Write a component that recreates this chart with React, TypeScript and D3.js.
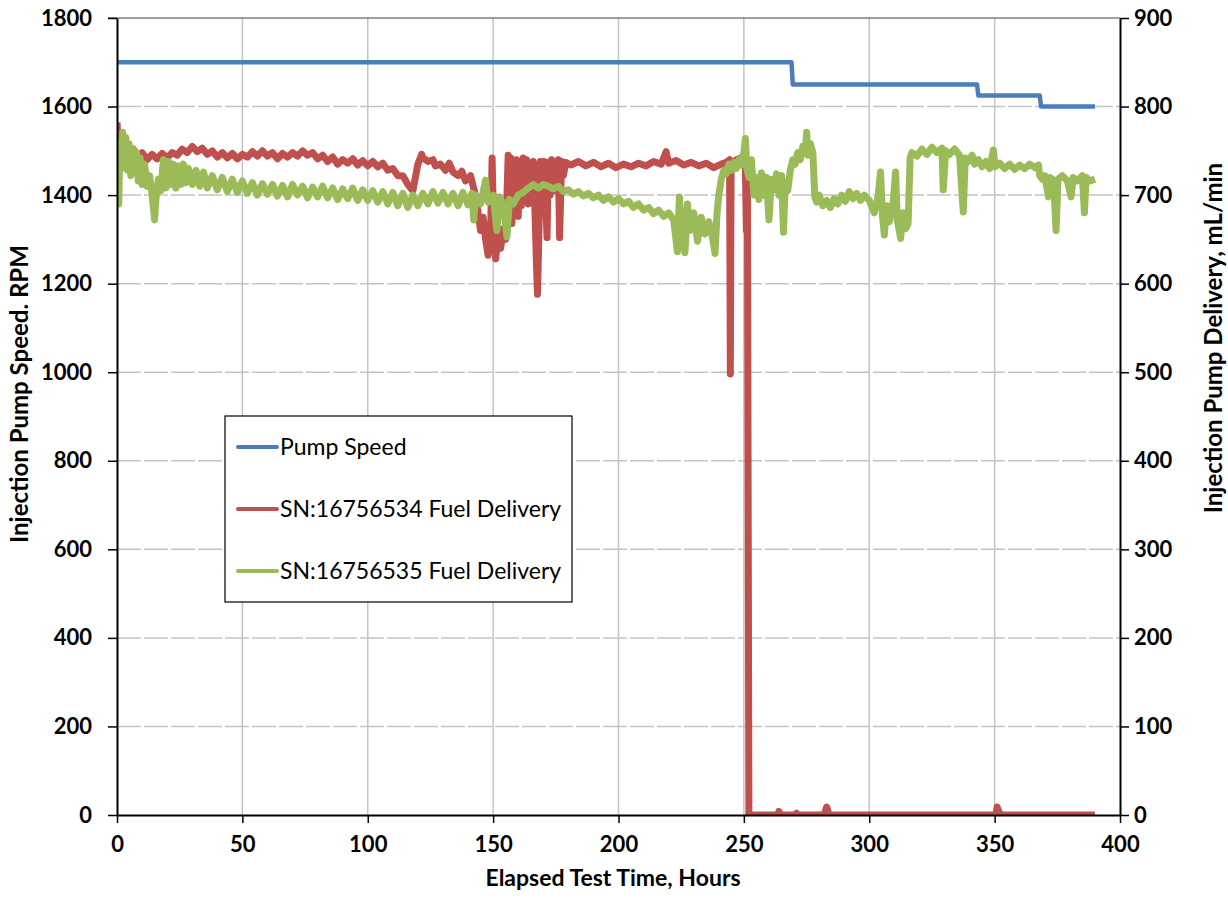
import { useEffect, useRef } from "react";
import * as d3 from "d3";

// elapsed hours, RPM (left axis)
const pumpSpeed: [number, number][] = [
  [0, 1700], [269, 1700], [269.5, 1650], [343, 1650], [343.5, 1625],
  [368, 1625], [368.5, 1600], [390, 1600],
];

// elapsed hours, mL/min (right axis)
const sn534: [number, number][] = [
  [0, 782], [0.5, 760], [1.5, 770], [2.5, 752], [4, 758], [5, 746], [6.5, 752], [8, 741],
  [10, 748], [12, 740], [14, 746], [16, 741], [18, 747], [20, 742], [22, 748], [24, 745],
  [26, 752], [28, 748], [30, 755], [32, 749], [34, 753], [36, 746], [38, 750], [40, 743],
  [42, 748], [44, 742], [46, 747], [48, 741], [50, 746], [52, 743], [54, 749], [56, 744],
  [58, 750], [60, 744], [62, 748], [64, 741], [66, 747], [68, 743], [70, 748], [72, 744],
  [74, 750], [76, 745], [78, 748], [80, 741], [82, 745], [84, 738], [86, 743], [88, 735],
  [90, 740], [92, 736], [94, 741], [96, 734], [98, 739], [100, 733], [102, 738], [104, 732],
  [106, 736], [108, 728], [110, 730], [112, 722], [114, 722], [116, 712], [118, 705],
  [120, 735], [121.5, 746], [122, 742], [124, 738], [126, 740], [127, 733], [129, 735],
  [131, 728], [132.5, 736], [134, 726], [136, 722], [137.5, 727], [139, 716], [141, 722],
  [142.5, 705], [143.5, 690], [145, 660], [146, 675], [147, 650], [148, 632], [149, 660],
  [149.6, 742], [150.2, 660], [151, 628], [152, 655], [153, 640], [154, 662], [155, 650],
  [156, 745], [156.5, 690], [157, 742], [157.5, 668], [158, 738], [158.7, 700], [159.3, 740],
  [160, 676], [160.7, 736], [161.3, 688], [162, 742], [162.7, 700], [163.3, 740], [164, 690],
  [164.7, 735], [165.3, 705], [166, 738], [166.7, 680], [167.3, 620], [167.7, 588], [168.2, 650],
  [168.8, 738], [169.5, 700], [170.2, 738], [171, 690], [171.5, 652], [172, 737], [172.7, 700],
  [173.3, 740], [174, 705], [174.7, 735], [175.3, 715], [176, 740], [176.5, 652], [177.3, 738],
  [178, 722], [179, 737], [181, 734], [184, 738], [187, 733], [190, 737], [193, 732], [196, 736],
  [199, 731], [202, 735], [205, 732], [208, 736], [211, 733], [214, 738], [217, 735], [219, 749],
  [220, 736], [223, 739], [226, 734], [229, 737], [232, 733], [235, 736], [238, 731], [241, 735],
  [243, 737], [244.3, 740], [244.6, 498], [244.9, 735], [247, 740], [249, 742], [250.5, 745],
  [251, 660], [251.4, 735], [252, 0], [263.5, 0], [264, 4], [264.5, 0], [270.5, 0], [271, 2],
  [271.5, 0], [282, 0], [283, 9], [284, 0], [350.5, 0], [351, 9], [352, 2], [353, 0], [390, 0],
];

const sn535: [number, number][] = [
  [0, 700], [0.3, 745], [0.7, 690], [1.2, 760], [1.8, 730], [2.3, 771], [3, 735], [3.5, 765],
  [4.2, 728], [4.8, 758], [5.5, 722], [6.2, 752], [7, 725], [7.8, 748], [8.5, 716], [9.2, 742],
  [10, 712], [11, 735], [12, 710], [13, 722], [14, 700], [15, 672], [15.5, 695], [16.5, 718],
  [17.5, 705], [18.5, 740], [19.5, 708], [20.5, 738], [21.5, 712], [22.5, 735], [23.5, 708],
  [24.5, 733], [25.5, 712], [26.5, 735], [27.5, 714], [28.5, 730], [30, 712], [31.5, 728],
  [33, 710], [34.5, 726], [36, 708], [38, 722], [40, 706], [42, 720], [44, 704], [46, 718],
  [48, 703], [50, 716], [52, 702], [54, 714], [56, 700], [58, 713], [60, 701], [62, 712],
  [64, 699], [66, 711], [68, 698], [70, 712], [72, 700], [74, 710], [76, 697], [78, 709],
  [80, 698], [82, 710], [84, 697], [86, 708], [88, 695], [90, 707], [92, 696], [94, 708],
  [96, 694], [98, 706], [100, 694], [102, 705], [104, 692], [106, 704], [108, 690], [110, 703],
  [112, 688], [114, 702], [116, 686], [118, 700], [120, 688], [122, 702], [124, 690], [126, 704],
  [128, 691], [130, 703], [132, 690], [134, 702], [136, 688], [138, 703], [140, 689],
  [141.5, 702], [142.3, 672], [143, 700], [145, 690], [147, 717], [148, 692], [150, 700],
  [151.5, 660], [152.5, 698], [154, 690], [155.5, 653], [156.5, 695], [158, 690], [160, 700],
  [162, 703], [164, 708], [166, 712], [168, 708], [170, 712], [172, 710], [174, 707], [176, 710],
  [178, 704], [180, 706], [182, 701], [184, 704], [186, 699], [188, 702], [190, 697], [192, 700],
  [194, 694], [196, 698], [198, 692], [200, 696], [202, 690], [204, 693], [206, 686], [208, 690],
  [210, 683], [212, 686], [214, 679], [216, 683], [218, 676], [220, 680], [222, 672],
  [223.5, 636], [224.3, 698], [225, 665], [226.5, 635], [227.5, 690], [228.5, 660], [230, 680],
  [231.5, 648], [233, 675], [234.5, 656], [236, 670], [237.5, 652], [238.5, 634], [239.3, 680],
  [240, 700], [241, 718], [242, 728], [243, 724], [244, 735], [245, 728], [246, 737], [247, 730],
  [248, 740], [249, 734], [250, 748], [250.6, 764], [251.2, 730], [252, 720], [253, 740],
  [254, 700], [255, 720], [256, 695], [257, 725], [258, 700], [259, 720], [260, 672], [261, 718],
  [262, 706], [263, 724], [264, 700], [265, 722], [265.8, 658], [266.5, 715], [267.5, 705],
  [268.5, 728], [269.5, 740], [270.5, 735], [271.5, 748], [272.5, 740], [273.5, 755],
  [274.5, 748], [275, 771], [275.6, 745], [276.5, 758], [277.5, 748], [278.3, 698], [279, 692],
  [280, 700], [281.5, 688], [283, 694], [284.5, 686], [286, 696], [287.5, 690], [289, 700],
  [290.5, 693], [292, 704], [293.5, 696], [295, 702], [296.5, 694], [298, 700], [300, 694],
  [302, 680], [303.5, 698], [304.5, 726], [305.3, 676], [306, 655], [307, 688], [308, 670],
  [309.5, 690], [310.5, 726], [311.2, 672], [312.5, 651], [313.5, 680], [314.5, 662],
  [315.5, 668], [316.3, 742], [317, 748], [319, 744], [321, 752], [323, 746], [325, 754],
  [327, 748], [329, 753], [329.5, 706], [330.5, 750], [332, 746], [334, 752], [336, 745],
  [337.5, 681], [338.3, 742], [339.5, 738], [341, 745], [342, 735], [343.5, 740], [345, 732],
  [346.5, 738], [348, 730], [349.5, 751], [350.2, 732], [352, 736], [354, 730], [356, 735],
  [358, 729], [360, 734], [362, 730], [364, 735], [366, 731], [367.5, 734], [368, 722],
  [369, 718], [370, 722], [371.5, 698], [372, 720], [373.5, 717], [374.5, 660], [375.3, 718],
  [377, 722], [379, 716], [380.5, 698], [381.3, 720], [383, 716], [385, 722], [385.8, 680],
  [386.5, 720], [388, 716], [390, 718],
];

const xTicks = [0, 50, 100, 150, 200, 250, 300, 350, 400];
const leftTicks = [0, 200, 400, 600, 800, 1000, 1200, 1400, 1600, 1800];
const rightTicks = [0, 100, 200, 300, 400, 500, 600, 700, 800, 900];

const seriesNames = ["Pump Speed", "SN:16756534 Fuel Delivery", "SN:16756535 Fuel Delivery"];
const seriesColors = ["#4A7EBB", "#C0504D", "#9BBB59"];

export default function App() {
  const ref = useRef<SVGSVGElement>(null);

  useEffect(() => {
    const svg = d3.select(ref.current);
    svg.selectAll("*").remove();

    const left = 117, right = 1120, top = 18, bottom = 815;
    const font = "Lato, 'Open Sans', sans-serif";
    const fmt = d3.format("d");

    const x = d3.scaleLinear().domain([0, 400]).range([left, right]);
    const yL = d3.scaleLinear().domain([0, 1800]).range([bottom, top]);
    const yR = d3.scaleLinear().domain([0, 900]).range([bottom, top]);

    svg.append("defs").append("clipPath").attr("id", "plot-clip")
      .append("rect")
      .attr("x", left).attr("y", top)
      .attr("width", right - left + 4).attr("height", bottom - top);

    // grid
    svg.append("g")
      .selectAll("line")
      .data(xTicks.slice(1, -1))
      .join("line")
      .attr("x1", d => x(d)).attr("x2", d => x(d))
      .attr("y1", top).attr("y2", bottom)
      .attr("stroke", "#c3c3c3").attr("stroke-width", 1.5);

    svg.append("g")
      .selectAll("line")
      .data(leftTicks.slice(1, -1))
      .join("line")
      .attr("x1", left).attr("x2", right)
      .attr("y1", d => yL(d)).attr("y2", d => yL(d))
      .attr("stroke", "#c3c3c3").attr("stroke-width", 1.5)
      .attr("stroke-dasharray", "24,3");

    svg.append("line")
      .attr("x1", left - 9).attr("x2", right).attr("y1", top).attr("y2", top)
      .attr("stroke", "#404040").attr("stroke-width", 1.2);

    // series
    const lineL = d3.line<[number, number]>().x(d => x(d[0])).y(d => yL(d[1]));
    const lineR = d3.line<[number, number]>().x(d => x(d[0])).y(d => yR(d[1]));

    const plot = svg.append("g").attr("clip-path", "url(#plot-clip)");
    plot.append("path").datum(pumpSpeed)
      .attr("fill", "none").attr("stroke", seriesColors[0]).attr("stroke-width", 4.5)
      .attr("stroke-linejoin", "round").attr("d", lineL);
    plot.append("path").datum(sn534)
      .attr("fill", "none").attr("stroke", seriesColors[1]).attr("stroke-width", 7)
      .attr("stroke-linejoin", "round").attr("d", lineR);
    plot.append("path").datum(sn535)
      .attr("fill", "none").attr("stroke", seriesColors[2]).attr("stroke-width", 7)
      .attr("stroke-linejoin", "round").attr("d", lineR);

    // axes
    const axisStyle = (g: any) => {
      g.select(".domain").attr("stroke", "#000").attr("stroke-width", 2);
      g.selectAll(".tick line").attr("stroke", "#000").attr("stroke-width", 1.5);
      g.selectAll(".tick text")
        .attr("font-family", font).attr("font-size", 22).attr("font-weight", "bold").attr("fill", "#000");
    };

    svg.append("g")
      .attr("transform", `translate(0,${bottom})`)
      .call(d3.axisBottom(x).tickValues(xTicks).tickFormat(fmt).tickSize(8).tickPadding(13).tickSizeOuter(0))
      .call(axisStyle);

    svg.append("g")
      .attr("transform", `translate(${left},0)`)
      .call(d3.axisLeft(yL).tickValues(leftTicks).tickFormat(fmt).tickSize(9).tickPadding(16).tickSizeOuter(0))
      .call(axisStyle);

    svg.append("g")
      .attr("transform", `translate(${right},0)`)
      .call(d3.axisRight(yR).tickValues(rightTicks).tickFormat(fmt).tickSize(9).tickPadding(5).tickSizeOuter(0))
      .call(axisStyle);

    // titles
    svg.append("text")
      .attr("x", 613).attr("y", 886)
      .attr("text-anchor", "middle")
      .attr("font-family", font).attr("font-size", 23).attr("font-weight", "bold")
      .text("Elapsed Test Time, Hours");

    svg.append("text")
      .attr("transform", "translate(28,394) rotate(-90)")
      .attr("text-anchor", "middle")
      .attr("font-family", font).attr("font-size", 24).attr("font-weight", "bold")
      .text("Injection Pump Speed. RPM");

    svg.append("text")
      .attr("transform", "translate(1222,338) rotate(-90)")
      .attr("text-anchor", "middle")
      .attr("font-family", font).attr("font-size", 24).attr("font-weight", "bold")
      .text("Injection Pump Delivery, mL/min");

    // legend
    const legend = svg.append("g").attr("transform", "translate(225,416)");
    legend.append("rect")
      .attr("width", 347).attr("height", 186)
      .attr("fill", "#fff").attr("stroke", "#000").attr("stroke-width", 1.2);
    const item = legend.selectAll("g.item")
      .data(seriesNames)
      .join("g")
      .attr("class", "item")
      .attr("transform", (d, i) => `translate(0,${31 + i * 62})`);
    item.append("line")
      .attr("x1", 13).attr("x2", 52)
      .attr("stroke", (d, i) => seriesColors[i]).attr("stroke-width", 4)
      .attr("stroke-linecap", "round");
    item.append("text")
      .attr("x", 55).attr("y", 8)
      .attr("font-family", font).attr("font-size", 23)
      .text(d => d);
  }, []);

  return (
    <div style={{ position: "absolute", left: 0, top: 0 }}>
      <svg ref={ref} width={1228} height={898} style={{ display: "block", background: "#fff" }}></svg>
    </div>
  );
}
